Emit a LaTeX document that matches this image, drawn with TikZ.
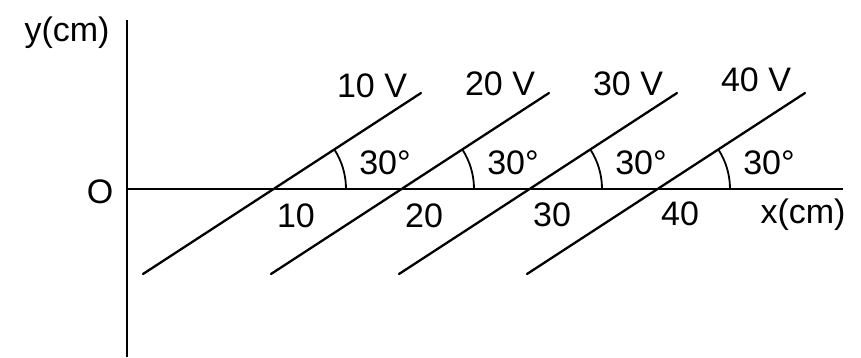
\documentclass[tikz,border=0pt]{standalone}
\usepackage{fontspec}
\setmainfont{Liberation Sans}
\usetikzlibrary{calc}
\begin{document}
\begin{tikzpicture}[x=1pt,y=-1pt,
  axis/.style={line width=2.3pt},
  eqline/.style={line width=2.3pt, line cap=round},
  anglearc/.style={line width=1.8pt},
  lbl/.style={inner sep=0pt, font=\fontsize{34}{40}\selectfont}]
\useasboundingbox (0,0) rectangle (861,357);
% axes
\coordinate (ytop) at (127,20);
\coordinate (ybot) at (127,357);
\coordinate (xend) at (843,189);
\coordinate (O) at (127,189);
\draw[axis] (ytop) -- (ybot);
\draw[axis] (O) -- (xend);
\node[lbl] (ylab) at (67,33) {y(cm)};
\node[lbl] (olab) at (100,192) {O};
\node[lbl] (xlab) at (803,215) {x(cm)};
% equipotential lines
\foreach \i/\cx/\vy/\ny in {1/273/86/216, 2/401/84/216, 3/529/84/215, 4/657/80/214}{
  \coordinate (c\i) at (\cx,189);
  \coordinate (lo\i) at ($(c\i)+(-130,85)$);
  \coordinate (hi\i) at ($(c\i)+(148,-96)$);
  \coordinate (as\i) at ($(c\i)+(73,0)$);
  \draw[eqline] (lo\i) -- (hi\i);
  \draw[anglearc] (as\i) arc[start angle=0, end angle=-33, radius=73];
  \pgfmathtruncatemacro{\val}{10*\i}
  \node[lbl] (v\i) at (\cx+99,\vy) {\val\ V};
  \node[lbl] (a\i) at (\cx+112,163) {30°};
  \node[lbl] (n\i) at (\cx+23,\ny) {\val};
}
\end{tikzpicture}
\end{document}
